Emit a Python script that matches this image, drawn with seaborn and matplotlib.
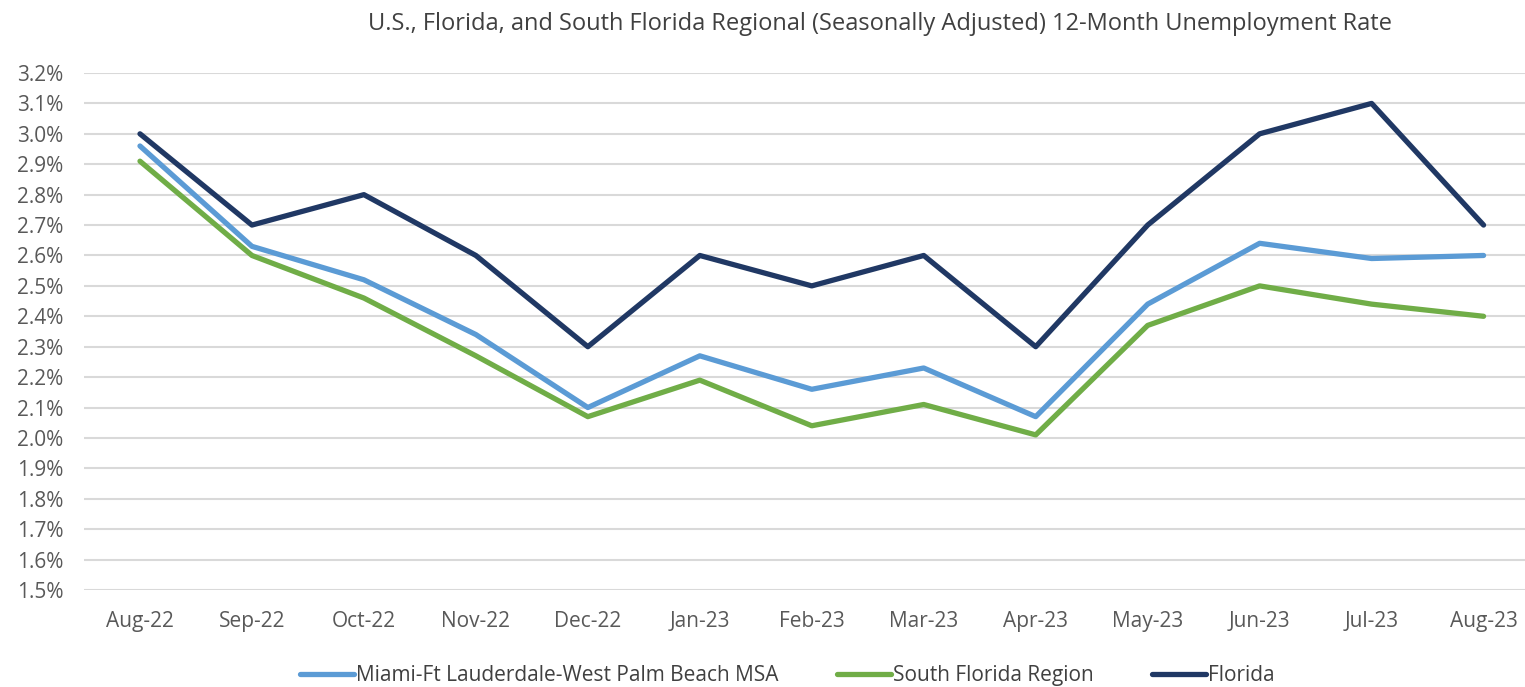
import matplotlib
matplotlib.use("Agg")
import matplotlib.pyplot as plt
import seaborn as sns
import pandas as pd
from matplotlib.ticker import FuncFormatter, MultipleLocator

months = ["Aug-22", "Sep-22", "Oct-22", "Nov-22", "Dec-22", "Jan-23", "Feb-23",
          "Mar-23", "Apr-23", "May-23", "Jun-23", "Jul-23", "Aug-23"]
miami = [2.96, 2.63, 2.52, 2.34, 2.10, 2.27, 2.16, 2.23, 2.07, 2.44, 2.64, 2.59, 2.60]
south_florida = [2.91, 2.60, 2.46, 2.27, 2.07, 2.19, 2.04, 2.11, 2.01, 2.37, 2.50, 2.44, 2.40]
florida = [3.0, 2.7, 2.8, 2.6, 2.3, 2.6, 2.5, 2.6, 2.3, 2.7, 3.0, 3.1, 2.7]

series_names = ["Miami-Ft Lauderdale-West Palm Beach MSA", "South Florida Region", "Florida"]
colors = ["#5B9BD5", "#70AD47", "#203864"]

df = pd.concat([
    pd.DataFrame({"Month": months, "Rate": miami, "Series": series_names[0]}),
    pd.DataFrame({"Month": months, "Rate": south_florida, "Series": series_names[1]}),
    pd.DataFrame({"Month": months, "Rate": florida, "Series": series_names[2]}),
])

sns.set_style("white")
plt.rcParams['font.family'] = ['Open Sans', 'DejaVu Sans']

fig = plt.figure(figsize=(15.25, 6.87), dpi=100)
ax = fig.add_axes([84 / 1525, 1 - 590 / 687, 1 - 84 / 1525, (590 - 73) / 687])

sns.lineplot(data=df, x="Month", y="Rate", hue="Series", hue_order=series_names,
             palette=colors, linewidth=3.8, sort=False, ax=ax, legend=True)

ax.set_ylim(1.5, 3.2)
ax.set_xlim(-0.5, 12.37)
ax.yaxis.set_major_locator(MultipleLocator(0.1))
ax.yaxis.set_major_formatter(FuncFormatter(lambda v, p: f"{v:.1f}%"))
ax.grid(axis="y", color="#D9D9D9", linewidth=1.5)
ax.set_axisbelow(True)
for s in ax.spines.values():
    s.set_visible(False)
ax.set_xlabel("")
ax.set_ylabel("")
ax.tick_params(axis="both", length=0, labelsize=15, colors="#595959")
ax.tick_params(axis="x", pad=15)
ax.tick_params(axis="y", pad=15)

fig.suptitle("U.S., Florida, and South Florida Regional (Seasonally Adjusted) 12-Month Unemployment Rate",
             x=0.577, y=0.983, fontsize=17, color="#404040")

handles, labels = ax.get_legend_handles_labels()
ax.legend(handles, labels, loc="center", bbox_to_anchor=(0.488, -0.165), ncol=3,
          frameon=False, fontsize=15, labelcolor="#404040", handlelength=2.6,
          handletextpad=0.1, columnspacing=2.8)

fig.savefig("out.png", dpi=100)
